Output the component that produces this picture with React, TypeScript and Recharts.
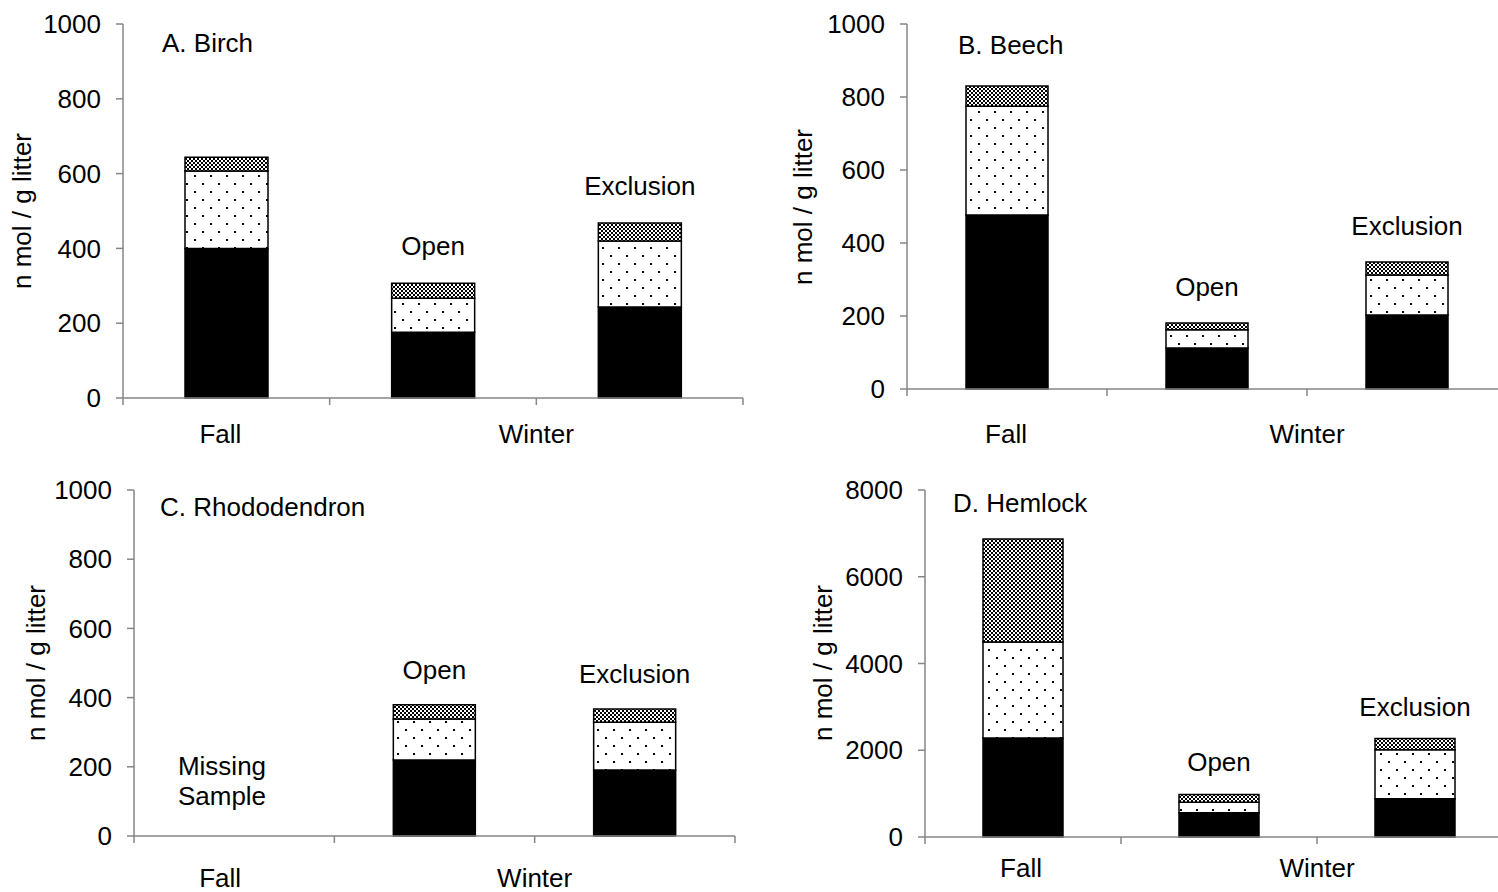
import React from 'react';
import { BarChart, Bar, XAxis, YAxis, LabelList } from 'recharts';

// categories and stacked pools per species (n mol / g litter)
const categories = ['Fall', 'Open', 'Exclusion'];
const barLabels = ['', 'Open', 'Exclusion'];

const birchBlack = [400, 176, 243];
const birchDots = [207, 91, 177];
const birchCross = [37, 40, 48];

const beechBlack = [477, 112, 203];
const beechDots = [298, 50, 109];
const beechCross = [55, 19, 36];

const rhodoBlack = [null, 220, 191];
const rhodoDots = [null, 118, 138];
const rhodoCross = [null, 41, 38];

const hemlockBlack = [2280, 560, 880];
const hemlockDots = [2215, 240, 1130];
const hemlockCross = [2375, 180, 260];

const smallTicks = [0, 200, 400, 600, 800, 1000];
const bigTicks = [0, 2000, 4000, 6000, 8000];
const xTicks = [0, 0.5, 1, 2, 3];
const xTickText: Record<string, string> = { '0.5': 'Fall', '2': 'Winter' };

const FONT = '"Liberation Sans", Arial, sans-serif';
const FS = 26;
const AXIS = '#868686';
const YW = 100;
const MT = 20;
const MR = 10;
const XH = 80;

const build = (black: any[], dots: any[], cross: any[]) =>
  categories.map((c, i) => ({
    name: c,
    x: i + 0.5,
    black: black[i],
    dots: dots[i],
    cross: cross[i],
    label: barLabels[i],
  }));

const XTick = (props: any) => {
  const { x, payload, axisY, labelDy, fallDx } = props;
  const v = payload.value;
  const text = xTickText[String(v)];
  const dx = v === 0.5 ? fallDx : 0;
  return (
    <g>
      {Number.isInteger(v) && <line x1={x} x2={x} y1={axisY} y2={axisY + 7} stroke={AXIS} strokeWidth={1.5} />}
      {text && (
        <text x={x + dx} y={axisY + labelDy} textAnchor="middle" dominantBaseline="central" fontSize={FS} fill="#000" fontFamily={FONT}>
          {text}
        </text>
      )}
    </g>
  );
};

const TopLabel = (offset: number) => (props: any) => {
  const { x, y, width, value } = props;
  if (!value || y == null) return null;
  return (
    <text x={x + width / 2} y={y - offset} textAnchor="middle" dominantBaseline="central" fontSize={FS} fill="#000" fontFamily={FONT}>
      {value}
    </text>
  );
};

function Panel({ p }: any) {
  const width = YW + p.plotW + MR;
  const height = MT + p.plotH + XH;
  const axisY = MT + p.plotH;
  return (
    <>
      <div style={{ position: 'absolute', left: p.plotLeft - YW, top: p.plotTop - MT }}>
        <BarChart width={width} height={height} data={p.data} margin={{ top: MT, right: MR, left: 0, bottom: 0 }}>
          <XAxis
            dataKey="x"
            type="number"
            domain={[0, 3]}
            ticks={xTicks}
            interval={0}
            height={XH}
            axisLine={{ stroke: AXIS, strokeWidth: 1.5 }}
            tickLine={false}
            tick={<XTick axisY={axisY} labelDy={p.xLabelDy} fallDx={p.fallDx} />}
          />
          <YAxis
            type="number"
            domain={[0, p.yMax]}
            ticks={p.ticks}
            width={YW}
            axisLine={{ stroke: AXIS, strokeWidth: 1.5 }}
            tickLine={{ stroke: AXIS, strokeWidth: 1.5 }}
            tickSize={7}
            tickMargin={15}
            tick={{ fontSize: FS, fill: '#000', fontFamily: FONT }}
          />
          <Bar dataKey="black" stackId="s" fill="#000" stroke="#000" strokeWidth={1.5} barSize={p.barSize} isAnimationActive={false} />
          <Bar dataKey="dots" stackId="s" fill="url(#dots)" stroke="#000" strokeWidth={1.5} barSize={p.barSize} isAnimationActive={false} />
          <Bar dataKey="cross" stackId="s" fill="url(#checker)" stroke="#000" strokeWidth={1.5} barSize={p.barSize} isAnimationActive={false}>
            <LabelList dataKey="label" content={TopLabel(p.labelOffset)} />
          </Bar>
        </BarChart>
      </div>
      <div style={{ position: 'absolute', left: p.title.x, top: p.title.y, transform: 'translateY(-50%)', fontSize: FS, lineHeight: 1, whiteSpace: 'nowrap' }}>
        {p.title.text}
      </div>
      <div
        style={{
          position: 'absolute',
          left: p.yLabel.x,
          top: p.yLabel.y,
          transform: 'translate(-50%, -50%) rotate(-90deg)',
          fontSize: 26,
          lineHeight: 1,
          whiteSpace: 'nowrap',
        }}
      >
        n mol / g litter
      </div>
    </>
  );
}

const panels = [
  {
    data: build(birchBlack, birchDots, birchCross),
    plotLeft: 123, plotTop: 24, plotW: 620, plotH: 374,
    yMax: 1000, ticks: smallTicks, barSize: 83, labelOffset: 37, xLabelDy: 36, fallDx: -6,
    title: { text: 'A. Birch', x: 162, y: 43 },
    yLabel: { x: 22, y: 211 },
  },
  {
    data: build(beechBlack, beechDots, beechCross),
    plotLeft: 907, plotTop: 24, plotW: 600, plotH: 365,
    yMax: 1000, ticks: smallTicks, barSize: 82, labelOffset: 36, xLabelDy: 45, fallDx: -1,
    title: { text: 'B. Beech', x: 958, y: 45 },
    yLabel: { x: 803, y: 207 },
  },
  {
    data: build(rhodoBlack, rhodoDots, rhodoCross),
    plotLeft: 134, plotTop: 490, plotW: 601, plotH: 346,
    yMax: 1000, ticks: smallTicks, barSize: 82, labelOffset: 35, xLabelDy: 42, fallDx: -14,
    title: { text: 'C. Rhododendron', x: 160, y: 507 },
    yLabel: { x: 36, y: 663 },
  },
  {
    data: build(hemlockBlack, hemlockDots, hemlockCross),
    plotLeft: 925, plotTop: 490, plotW: 588, plotH: 347,
    yMax: 8000, ticks: bigTicks, barSize: 80, labelOffset: 32, xLabelDy: 31, fallDx: -2,
    title: { text: 'D. Hemlock', x: 953, y: 503 },
    yLabel: { x: 823, y: 663 },
  },
];

export default function App() {
  return (
    <div
      style={{
        position: 'absolute',
        left: 0,
        top: 0,
        width: 1498,
        height: 892,
        overflow: 'hidden',
        background: '#fff',
        fontFamily: FONT,
        color: '#000',
      }}
    >
      <svg width={0} height={0} style={{ position: 'absolute' }}>
        <defs>
          <pattern id="dots" width={16} height={16} patternUnits="userSpaceOnUse">
            <rect width={16} height={16} fill="#fff" />
            <rect x={3} y={3} width={2} height={2} fill="#000" />
            <rect x={11} y={11} width={2} height={2} fill="#000" />
          </pattern>
          <pattern id="checker" width={4} height={4} patternUnits="userSpaceOnUse">
            <rect width={4} height={4} fill="#fff" />
            <rect x={0} y={0} width={2} height={2} fill="#000" />
            <rect x={2} y={2} width={2} height={2} fill="#000" />
          </pattern>
        </defs>
      </svg>
      {panels.map((p, i) => (
        <Panel key={i} p={p} />
      ))}
      <div style={{ position: 'absolute', left: 222, top: 781, transform: 'translate(-50%, -50%)', fontSize: FS, lineHeight: '30px', textAlign: 'center' }}>
        Missing
        <br />
        Sample
      </div>
    </div>
  );
}
